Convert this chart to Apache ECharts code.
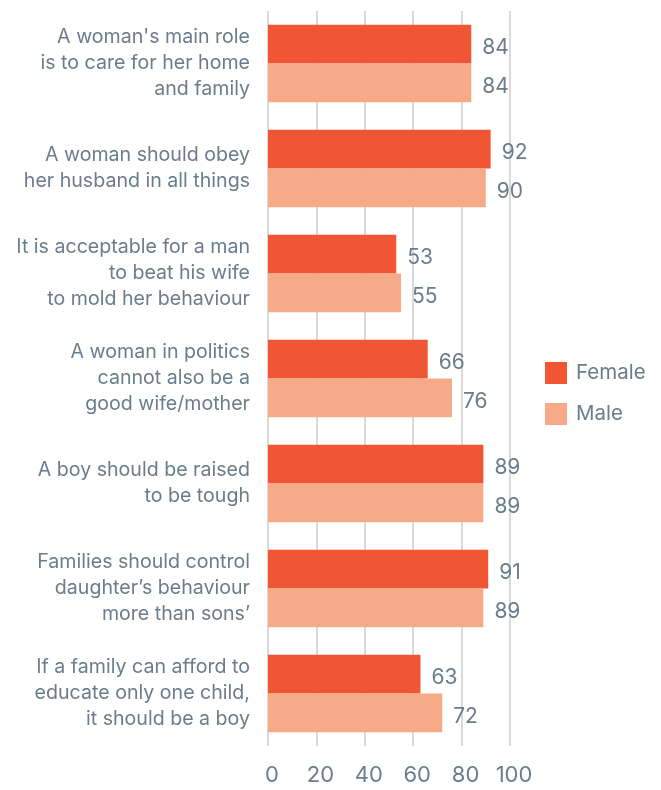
<!DOCTYPE html>
<html>
<head>
<meta charset="utf-8">
<script src="https://cdn.jsdelivr.net/npm/echarts@6/dist/echarts.min.js"></script>
<style>
  html, body { margin: 0; padding: 0; background: #fff; }
  #chart { width: 661px; height: 790px; }
</style>
</head>
<body>
<div id="chart"></div>
<script>
const categories = [
  "A woman's main role\nis to care for her home\nand family",
  "A woman should obey\nher husband in all things",
  "It is acceptable for a man\nto beat his wife\nto mold her behaviour",
  "A woman in politics\ncannot also be a\ngood wife/mother",
  "A boy should be raised\nto be tough",
  "Families should control\ndaughter\u2019s behaviour\nmore than sons\u2019",
  "If a family can afford to\neducate only one child,\nit should be a boy"
];
const femaleValues = [84, 92, 53, 66, 89, 91, 63];
const maleValues = [84, 90, 55, 76, 89, 89, 72];
const seriesNames = ["Female", "Male"];

const textColor = "#6b7d8c";
const fontFamily = "Inter, 'Noto Sans', sans-serif";

const chart = echarts.init(document.getElementById("chart"));
const labelStyle = {
  show: true,
  position: "right",
  distance: 11,
  offset: [0, 4],
  color: textColor,
  fontSize: 21,
  fontFamily: fontFamily
};
chart.setOption({
  animation: false,
  grid: { left: 268, right: 151, top: 11, bottom: 44, containLabel: false },
  legend: {
    orient: "vertical",
    left: 540,
    top: 357,
    itemWidth: 22,
    itemHeight: 22,
    itemGap: 19,
    icon: "rect",
    textStyle: { color: textColor, fontSize: 20.5, fontFamily: fontFamily, padding: [0, 0, 0, 4] },
    data: seriesNames
  },
  xAxis: {
    type: "value",
    min: 0,
    max: 100,
    interval: 20,
    axisLine: { show: false },
    axisTick: { show: false },
    splitLine: { show: true, lineStyle: { color: "#dadada", width: 2 } },
    axisLabel: {
      color: textColor,
      fontSize: 22,
      fontFamily: fontFamily,
      margin: 18,
      padding: [0, 0, 0, 8]
    }
  },
  yAxis: {
    type: "category",
    inverse: true,
    data: categories,
    axisLine: { show: false },
    axisTick: { show: false },
    axisLabel: {
      color: textColor,
      fontSize: 19.6,
      lineHeight: 26,
      fontFamily: fontFamily,
      align: "right",
      margin: 18
    }
  },
  series: [
    {
      name: seriesNames[0],
      type: "bar",
      data: femaleValues,
      barGap: "0%",
      barCategoryGap: "26%",
      itemStyle: { color: "#f05633" },
      label: labelStyle
    },
    {
      name: seriesNames[1],
      type: "bar",
      data: maleValues,
      barGap: "0%",
      barCategoryGap: "26%",
      itemStyle: { color: "#f7aa88" },
      label: labelStyle
    }
  ]
});
</script>
</body>
</html>
